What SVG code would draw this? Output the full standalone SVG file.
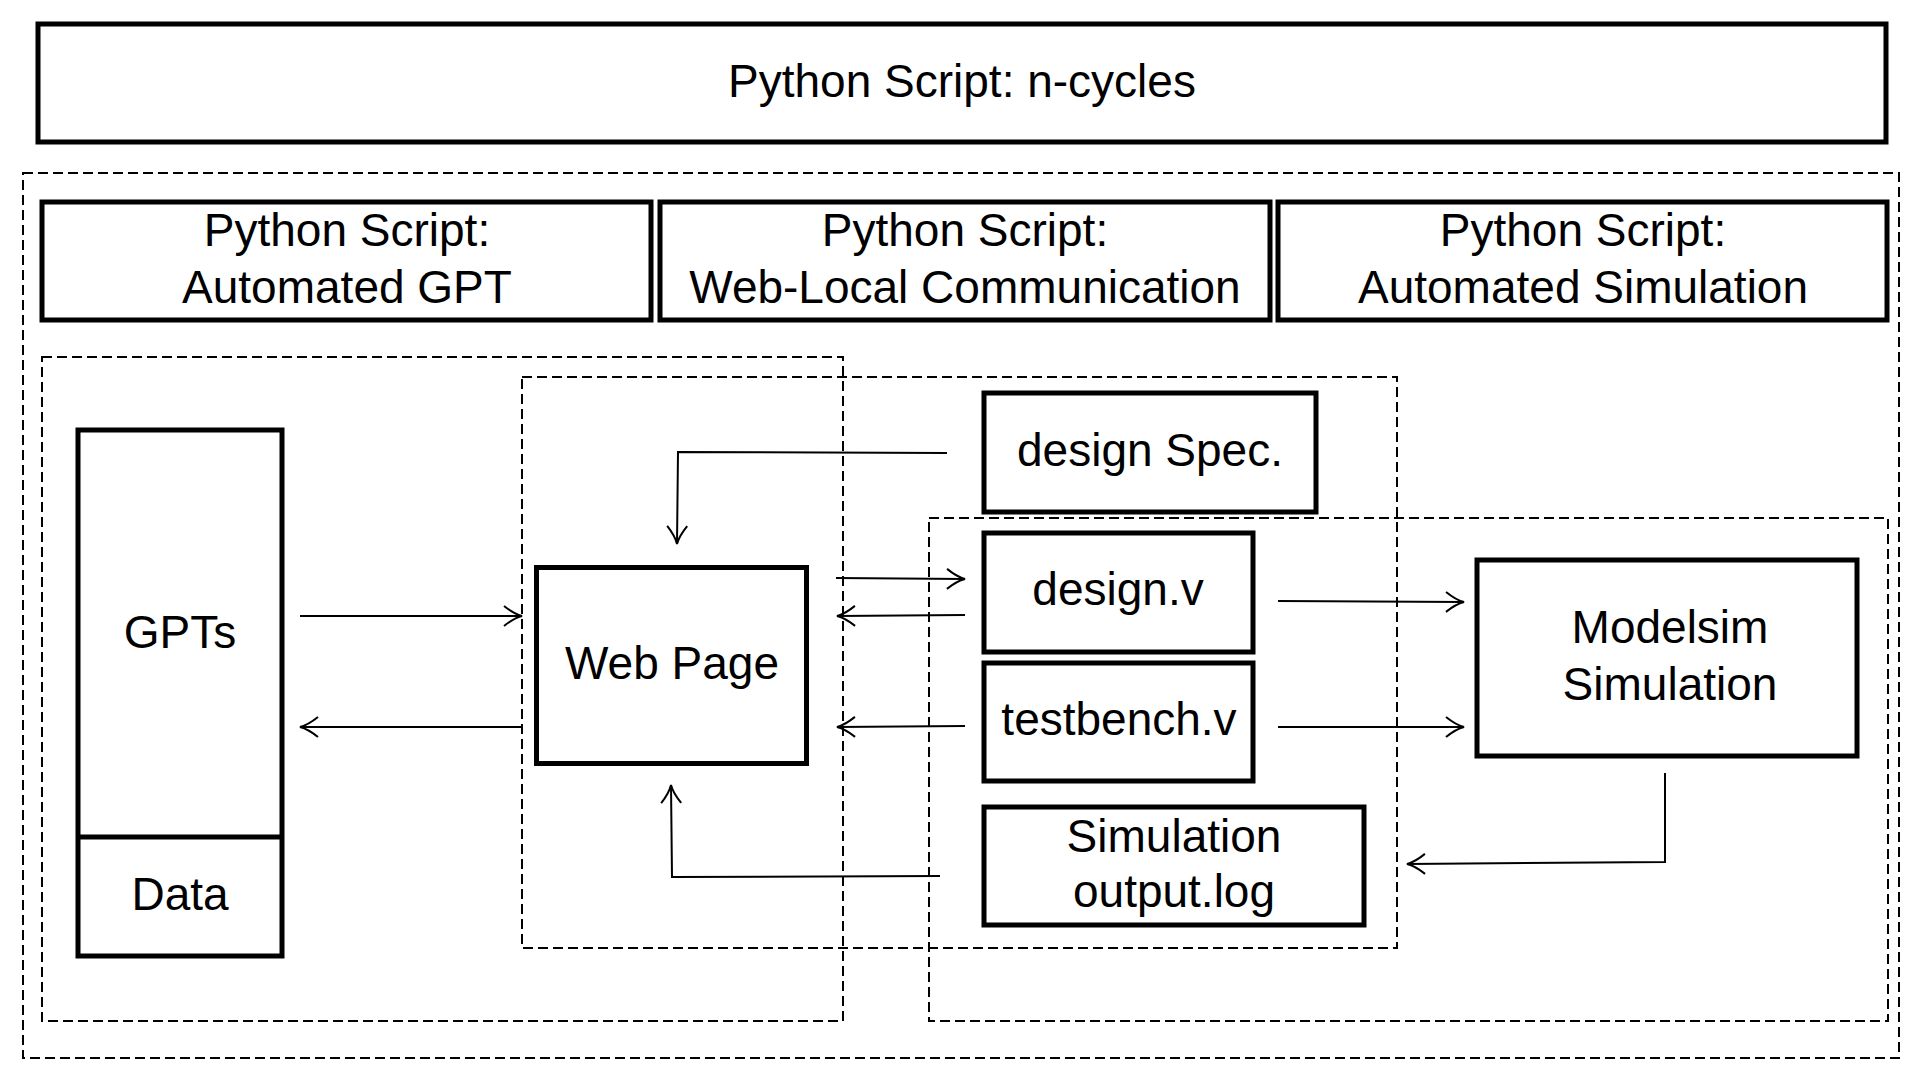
<svg xmlns="http://www.w3.org/2000/svg" width="1907" height="1080" viewBox="0 0 1907 1080">
<style>
.box{fill:#fff;stroke:#000;stroke-width:5}
.grp{fill:none;stroke:#000;stroke-width:2;stroke-dasharray:10 5}
.lbl{font-family:"Liberation Sans",Arial,sans-serif;font-size:46px;fill:#000;text-anchor:middle}
.con{fill:none;stroke:#000;stroke-width:2;marker-end:url(#arr)}
</style>
<defs>
<marker id="arr" markerUnits="userSpaceOnUse" markerWidth="24" markerHeight="24" viewBox="-20 -12 22 24" refX="0" refY="0" orient="auto">
<path d="M-18,-10 Q-8,-2 0,0 Q-8,2 -18,10" fill="none" stroke="#000" stroke-width="2"/>
</marker>
</defs>
<rect width="1907" height="1080" fill="#fff"/>
<g id="groups">
<rect class="grp" x="23" y="173" width="1876" height="885"/>
<rect class="grp" x="42" y="357" width="801" height="664"/>
<rect class="grp" x="522" y="377" width="875" height="571"/>
<rect class="grp" x="929" y="518" width="959" height="503"/>
</g>
<g id="n-cycles">
<rect class="box" x="38" y="24" width="1848" height="118"/>
<text class="lbl" x="962" y="97">Python Script: n-cycles</text>
</g>
<g id="automated-gpt">
<rect class="box" x="42" y="202" width="609" height="118"/>
<text class="lbl" x="347" y="246">Python Script:</text>
<text class="lbl" x="347" y="303">Automated GPT</text>
</g>
<g id="web-local">
<rect class="box" x="660" y="202" width="610" height="118"/>
<text class="lbl" x="965" y="246">Python Script:</text>
<text class="lbl" x="965" y="303">Web-Local Communication</text>
</g>
<g id="automated-sim">
<rect class="box" x="1278" y="202" width="609" height="118"/>
<text class="lbl" x="1583" y="246">Python Script:</text>
<text class="lbl" x="1583" y="303">Automated Simulation</text>
</g>
<g id="gpts">
<rect class="box" x="78" y="430" width="204" height="526"/>
<line x1="78" y1="837" x2="282" y2="837" stroke="#000" stroke-width="5"/>
<text class="lbl" x="180" y="648">GPTs</text>
<text class="lbl" x="180" y="910">Data</text>
</g>
<g id="web-page">
<rect class="box" x="536.5" y="567.5" width="270" height="196"/>
<text class="lbl" x="672" y="679">Web Page</text>
</g>
<g id="design-spec">
<rect class="box" x="984" y="393" width="332" height="119"/>
<text class="lbl" x="1150" y="466">design Spec.</text>
</g>
<g id="design-v">
<rect class="box" x="984" y="533" width="269" height="119"/>
<text class="lbl" x="1118" y="605">design.v</text>
</g>
<g id="testbench-v">
<rect class="box" x="984" y="663" width="269" height="118"/>
<text class="lbl" x="1119" y="735">testbench.v</text>
</g>
<g id="output-log">
<rect class="box" x="984" y="807" width="380" height="118"/>
<text class="lbl" x="1174" y="852">Simulation</text>
<text class="lbl" x="1174" y="907">output.log</text>
</g>
<g id="modelsim">
<rect class="box" x="1477" y="560" width="380" height="196"/>
<text class="lbl" x="1670" y="643">Modelsim</text>
<text class="lbl" x="1670" y="700">Simulation</text>
</g>
<g id="connectors">
<path class="con" d="M947,453 L678,452 L677,544"/>
<path class="con" d="M300,616 L522,616"/>
<path class="con" d="M523,727 L300,727"/>
<path class="con" d="M836,578 L965,579"/>
<path class="con" d="M965,615 L837,616"/>
<path class="con" d="M965,726 L837,727"/>
<path class="con" d="M940,876 L672,877 L671,785"/>
<path class="con" d="M1278,601 L1464,602"/>
<path class="con" d="M1278,727 L1464,727"/>
<path class="con" d="M1665,773 L1665,862 L1407,864"/>
</g>
</svg>
